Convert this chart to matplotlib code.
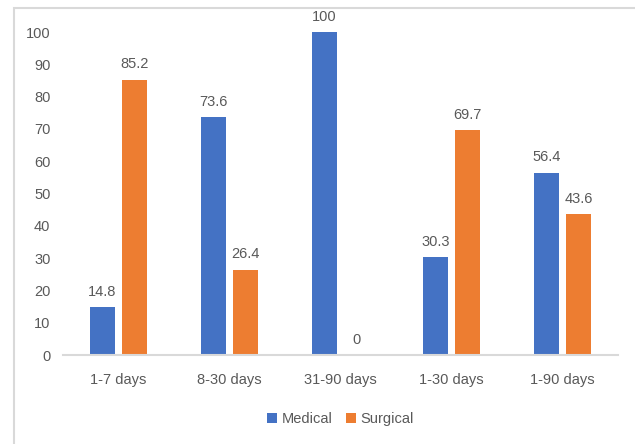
import numpy as np
import matplotlib.pyplot as plt
from matplotlib.patches import Rectangle

# Percentages by period
periods = ["1-7 days", "8-30 days", "31-90 days", "1-30 days", "1-90 days"]
medical = [14.8, 73.6, 100, 30.3, 56.4]
surgical = [85.2, 26.4, 0, 69.7, 43.6]

blue = "#4472C4"
orange = "#ED7D31"
text_gray = "#595959"
line_gray = "#D9D9D9"

plt.rcParams["font.family"] = ["Liberation Sans", "DejaVu Sans"]

fig = plt.figure(figsize=(6.35, 4.44), dpi=100)
ax = fig.add_axes([63 / 635, 1 - 355 / 444, 555 / 635, 323 / 444])

x = np.arange(len(periods))
w = 0.225
off = 0.146
b1 = ax.bar(x - off, medical, w, color=blue, label="Medical")
b2 = ax.bar(x + off, surgical, w, color=orange, label="Surgical")

for bars, vals in ((b1, medical), (b2, surgical)):
    for rect, v in zip(bars, vals):
        ax.annotate(f"{v:g}", (rect.get_x() + rect.get_width() / 2, v),
                    xytext=(0, 6), textcoords="offset points",
                    ha="center", va="bottom", fontsize=10.5, color=text_gray)

ax.set_xlim(-0.5, len(periods) - 0.5)
ax.set_ylim(0, 100)
ax.set_yticks(range(0, 101, 10))
ax.set_xticks(x)
ax.set_xticklabels(periods)
ax.tick_params(axis="both", length=0, labelsize=10.5, colors=text_gray)
ax.tick_params(axis="x", pad=13)
ax.tick_params(axis="y", pad=9)

for side in ("left", "right", "top"):
    ax.spines[side].set_visible(False)
ax.spines["bottom"].set_color(line_gray)
ax.spines["bottom"].set_linewidth(1.5)

ax.legend(loc="upper center", bbox_to_anchor=(0.5, -0.135), ncol=2,
          frameon=False, fontsize=10.5, labelcolor=text_gray,
          handlelength=0.7, handleheight=0.7, handletextpad=0.3,
          columnspacing=0.9)

# chart area border
fig.patches.append(Rectangle((14 / 635, -0.1), 2, 1.1 - 8 / 444,
                             transform=fig.transFigure, fill=False,
                             edgecolor=line_gray, linewidth=1.5))

fig.savefig("out.png", dpi=100)
